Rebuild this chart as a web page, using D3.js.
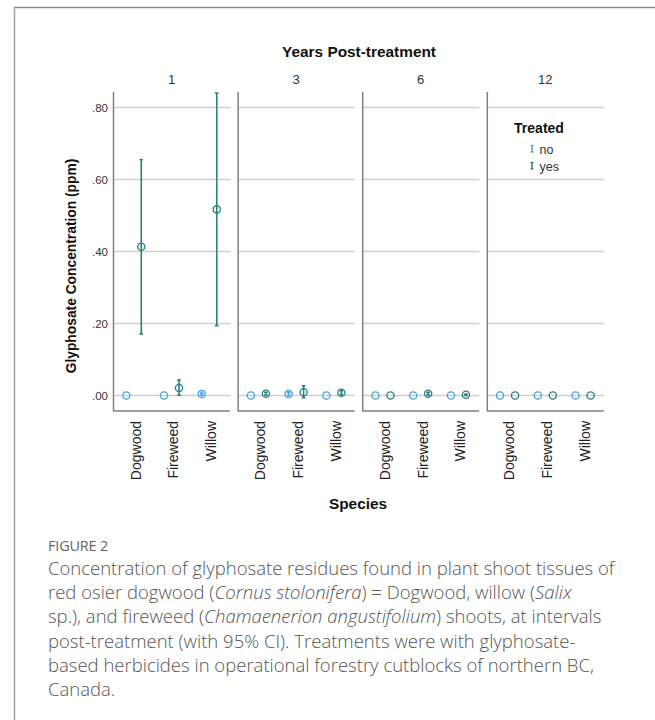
<!DOCTYPE html>
<html><head><meta charset="utf-8">
<script src="https://cdn.jsdelivr.net/npm/d3@7"></script>
<style>
body{margin:0;background:#fff;}
svg{display:block;}
</style></head>
<body>
<svg id="chart" width="655" height="720"></svg>
<script>
// ---- data ----
const years = ["1", "3", "6", "12"];
const species = ["Dogwood", "Fireweed", "Willow"];
const treatedGroups = ["no", "yes"];
const yTicks = [0, 0.2, 0.4, 0.6, 0.8];
// rows: years, cols: species
const meanNo = [[0, 0, 0.004], [0, 0.004, 0], [0, 0, 0], [0, 0, 0]];
const loNo   = [[0, 0, 0.001], [0, 0, 0], [0, 0, 0], [0, 0, 0]];
const hiNo   = [[0, 0, 0.007], [0, 0.009, 0], [0, 0, 0], [0, 0, 0]];
const meanYes = [[0.413, 0.021, 0.517], [0.005, 0.009, 0.008], [0, 0.005, 0.002], [0, 0, 0]];
const loYes   = [[0.171, 0.001, 0.194], [0.001, -0.006, 0.003], [0, 0.001, 0], [0, 0, 0]];
const hiYes   = [[0.655, 0.043, 0.840], [0.009, 0.027, 0.013], [0, 0.009, 0.004], [0, 0, 0]];

const colors = {no: "#43a3ea", yes: "#2a8080"};

const svg = d3.select("#chart");
const font = "'Liberation Sans', Arial, sans-serif";

// frame
svg.append("line").attr("x1", 14).attr("x2", 655).attr("y1", 7.5).attr("y2", 7.5)
  .attr("stroke", "#8c8c8c").attr("stroke-width", 1.5);
svg.append("line").attr("x1", 14.5).attr("x2", 14.5).attr("y1", 7).attr("y2", 720)
  .attr("stroke", "#a0a0a0").attr("stroke-width", 1.5);

// scales
const y = d3.scaleLinear().domain([-0.043, 0.843]).range([411, 92]);
const panel = d3.scaleBand().domain(years).range([113, 113 + 124.6 * 4]).paddingInner(0).paddingOuter(0);
const pw = 117;
const xs = d3.scaleBand().domain(species).range([0, pw]).paddingOuter(0.05).paddingInner(0);
const off = d3.scalePoint().domain(treatedGroups).range([-7.5, 7.5]);

// titles
svg.append("text").attr("x", 359).attr("y", 57).attr("text-anchor", "middle")
  .attr("font-family", font).attr("font-weight", "bold").attr("font-size", 15.4)
  .attr("fill", "#111").text("Years Post-treatment");
svg.append("text").attr("x", 358).attr("y", 509).attr("text-anchor", "middle")
  .attr("font-family", font).attr("font-weight", "bold").attr("font-size", 15.4)
  .attr("fill", "#111").text("Species");
svg.append("text").attr("transform", "translate(76,266) rotate(-90)").attr("text-anchor", "middle")
  .attr("font-family", font).attr("font-weight", "bold").attr("font-size", 13.8)
  .attr("fill", "#111").text("Glyphosate Concentration (ppm)");

// y tick labels
svg.append("g").selectAll("text").data(yTicks).join("text")
  .attr("x", 108).attr("y", d => y(d)).attr("dy", "0.35em").attr("text-anchor", "end")
  .attr("font-family", font).attr("font-size", 11.5).attr("fill", "#333")
  .text(d => d3.format(".2f")(d).replace(/^0/, ""));

years.forEach((yr, i) => {
  const g = svg.append("g").attr("transform", `translate(${panel(yr)},0)`);
  // gridlines
  g.selectAll("line.grid").data(yTicks).join("line").attr("class", "grid")
    .attr("x1", 0).attr("x2", pw).attr("y1", d => y(d)).attr("y2", d => y(d))
    .attr("stroke", "#cfcfcf").attr("stroke-width", 1.3);
  // axes
  g.append("line").attr("x1", 0.5).attr("x2", 0.5).attr("y1", 92).attr("y2", 411)
    .attr("stroke", "#808080").attr("stroke-width", 1.5);
  g.append("line").attr("x1", 0).attr("x2", pw).attr("y1", 411).attr("y2", 411)
    .attr("stroke", "#808080").attr("stroke-width", 1.5);
  // facet label
  g.append("text").attr("x", pw / 2).attr("y", 79).attr("dy", "0.35em").attr("text-anchor", "middle")
    .attr("font-family", font).attr("font-size", 13).attr("fill", "#333").text(yr);
  // species labels
  g.selectAll("text.sp").data(species).join("text").attr("class", "sp")
    .attr("transform", d => `translate(${xs(d) + xs.bandwidth() / 2 + 2},421) rotate(-90)`)
    .attr("dy", "0.35em").attr("text-anchor", "end")
    .attr("font-family", font).attr("font-size", 14).attr("fill", "#222").text(d => d);

  const pts = [];
  species.forEach((sp, j) => {
    pts.push({t: "no", sp, m: meanNo[i][j], lo: loNo[i][j], hi: hiNo[i][j]});
    pts.push({t: "yes", sp, m: meanYes[i][j], lo: loYes[i][j], hi: hiYes[i][j]});
  });
  const px = d => xs(d.sp) + xs.bandwidth() / 2 + off(d.t);
  const eb = g.selectAll("g.eb").data(pts.filter(d => d.hi > d.lo)).join("g").attr("class", "eb");
  eb.append("line").attr("x1", px).attr("x2", px).attr("y1", d => y(d.lo)).attr("y2", d => y(d.hi))
    .attr("stroke", d => colors[d.t]).attr("stroke-width", 1.6);
  ["lo", "hi"].forEach(k => {
    eb.append("line").attr("x1", d => px(d) - 1.8).attr("x2", d => px(d) + 1.8)
      .attr("y1", d => y(d[k])).attr("y2", d => y(d[k]))
      .attr("stroke", d => colors[d.t]).attr("stroke-width", 1.6);
  });
  g.selectAll("circle").data(pts).join("circle")
    .attr("cx", px).attr("cy", d => y(d.m)).attr("r", 3.6)
    .attr("fill", "none").attr("stroke", d => colors[d.t]).attr("stroke-width", 1.3);
});

// legend
const lg = svg.append("g");
lg.append("text").attr("x", 539).attr("y", 128).attr("dy", "0.35em").attr("text-anchor", "middle")
  .attr("font-family", font).attr("font-weight", "bold").attr("font-size", 14).attr("fill", "#111").text("Treated");
treatedGroups.forEach((t, k) => {
  const yy = 149 + k * 17;
  lg.append("line").attr("x1", 532).attr("x2", 532).attr("y1", yy - 3.5).attr("y2", yy + 3)
    .attr("stroke", colors[t]).attr("stroke-width", 1.5);
  lg.append("line").attr("x1", 530.5).attr("x2", 533.5).attr("y1", yy - 3.5).attr("y2", yy - 3.5)
    .attr("stroke", colors[t]).attr("stroke-width", 1.3);
  lg.append("line").attr("x1", 530.5).attr("x2", 533.5).attr("y1", yy + 3).attr("y2", yy + 3)
    .attr("stroke", colors[t]).attr("stroke-width", 1.3);
  lg.append("text").attr("x", 539.5).attr("y", yy + 1).attr("dy", "0.35em")
    .attr("font-family", font).attr("font-size", 12.5).attr("fill", "#333").text(t);
});

// caption
const cf = "'Open Sans', 'Noto Sans', sans-serif";
svg.append("text").attr("x", 48).attr("y", 551).attr("font-family", cf).attr("font-size", 14.5)
  .attr("fill", "#666").attr("letter-spacing", -0.2).text("FIGURE 2");
const captionLines = [
  [["Concentration of glyphosate residues found in plant shoot tissues of", false]],
  [["red osier dogwood (", false], ["Cornus stolonifera", true], [") = Dogwood, willow (", false], ["Salix", true]],
  [["sp.), and fireweed (", false], ["Chamaenerion angustifolium", true], [") shoots, at intervals", false]],
  [["post-treatment (with 95% CI). Treatments were with glyphosate-", false]],
  [["based herbicides in operational forestry cutblocks of northern BC,", false]],
  [["Canada.", false]]
];
captionLines.forEach((parts, k) => {
  const t = svg.append("text").attr("x", 48).attr("y", 575 + k * 24.2)
    .attr("font-family", cf).attr("font-size", 18.5).attr("font-weight", 300)
    .attr("fill", "#555").attr("letter-spacing", 0);
  parts.forEach(([s, it]) => t.append("tspan").attr("font-style", it ? "italic" : "normal").text(s));
});
</script>
</body></html>
